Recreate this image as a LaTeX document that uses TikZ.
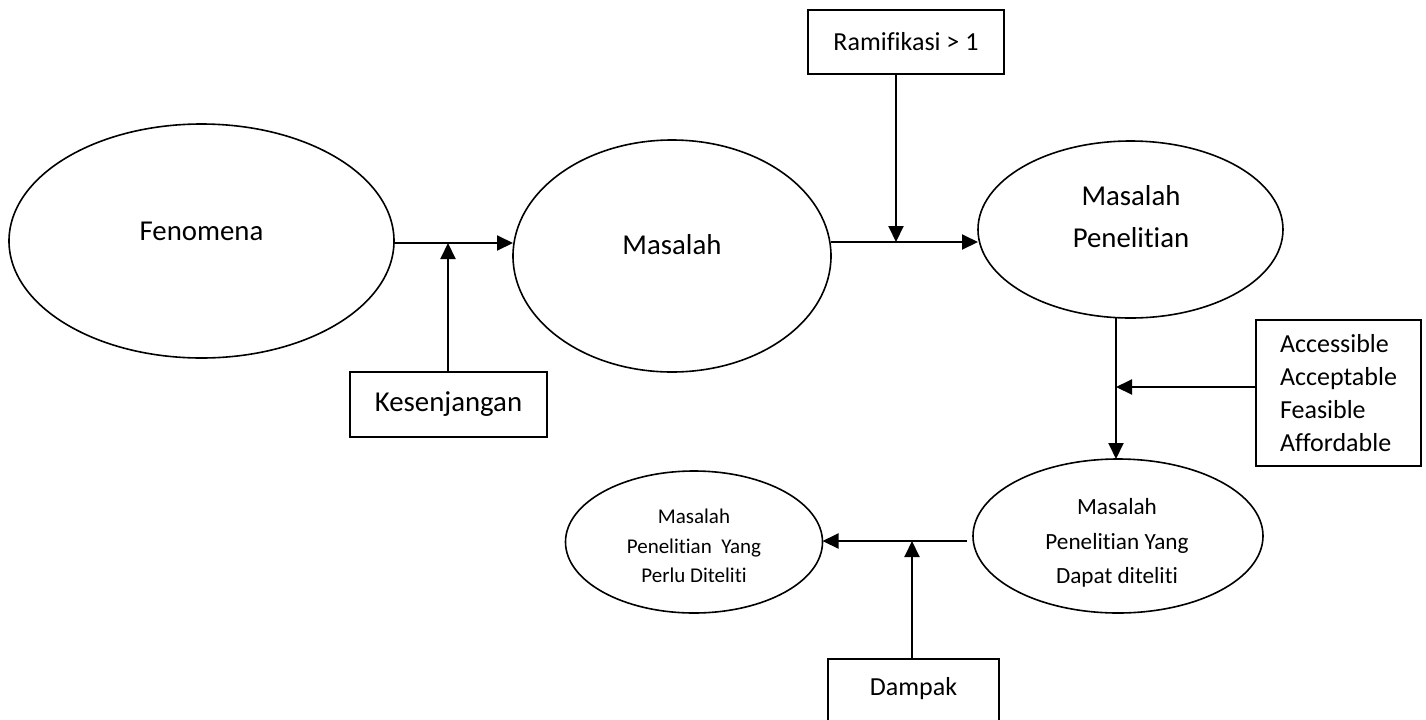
\documentclass[tikz,border=0pt]{standalone}
\usepackage{fontspec}
\setmainfont{Carlito}[Ligatures={NoCommon}]
\usetikzlibrary{shapes.geometric,arrows.meta}

\begin{document}
\begin{tikzpicture}[x=0.5pt,y=-0.5pt,
  oval/.style={draw,ellipse,line width=0.8pt,inner sep=0pt,outer sep=0pt},
  box/.style={draw,rectangle,line width=0.8pt,outer sep=0pt,font=\fontsize{13}{16.5}\selectfont},
  arr/.style={line width=1pt,-{Triangle[length=8pt,width=7.5pt]}},
  big/.style={font=\fontsize{14.4}{21}\selectfont,align=center}]
\useasboundingbox (0,0) rectangle (1426,719);
\clip (0,0) rectangle (1426,719);
\node[oval,minimum width=192.5pt,minimum height=117pt] (fen) at (201.5,241) {};
\node[oval,minimum width=159pt,minimum height=116pt] (mas) at (672,256) {};
\node[oval,minimum width=152.5pt,minimum height=88.5pt] (mps) at (1130.5,229.5) {};
\node[oval,minimum width=145pt,minimum height=77pt] (dpt) at (1118,536) {};
\node[oval,minimum width=128.5pt,minimum height=71pt] (prl) at (694,542) {};
\node[big] (fen-t) at (201.5,231) {Fenomena};
\node[big] (mas-t) at (672,245) {Masalah};
\node[big] (mps-t) at (1131,217) {Masalah\\Penelitian};
\node[font=\fontsize{11.6}{17.25}\selectfont,align=center] (dpt-t) at (1117,543) {Masalah\\Penelitian Yang\\Dapat diteliti};
\node[font=\fontsize{10.5}{14.75}\selectfont,align=center] (prl-t) at (694,546) {Masalah\\Penelitian~ Yang\\Perlu Diteliti};
\node[box,minimum width=98pt,minimum height=32pt] (ram) at (906,42) {Ramifikasi > 1};
\node[box,big,minimum width=98.5pt,minimum height=32.5pt] (kes) at (448.5,404.5) {Kesenjangan};
\node[box,align=left,minimum width=82.5pt,minimum height=73pt] (acc) at (1338.5,393) {Accessible\\Acceptable\\Feasible\\Affordable};
\node[box,minimum width=85.5pt,anchor=north,text height=9pt,text depth=30pt,inner ysep=9pt] (dmp) at (913.5,659) {Dampak};
% junctions
\coordinate (j1) at (448,243);
\coordinate (j2) at (896,242);
\coordinate (j3) at (1116,387);
\coordinate (j4) at (912,541);
\draw[arr] (fen.east |- j1) -- (mas.west |- j1);
\draw[arr] (kes.north -| j1) -- (j1);
\draw[arr] (mas.east |- j2) -- (mps.west |- j2);
\draw[arr] (ram.south -| j2) -- (j2);
\draw[arr] (mps.south -| j3) -- (dpt.north -| j3);
\draw[arr] (acc.west |- j3) -- (j3);
\draw[arr] ([xshift=-3pt]dpt.west |- j4) -- (prl.east |- j4);
\draw[arr] (dmp.north -| j4) -- (j4);
\end{tikzpicture}
\end{document}
